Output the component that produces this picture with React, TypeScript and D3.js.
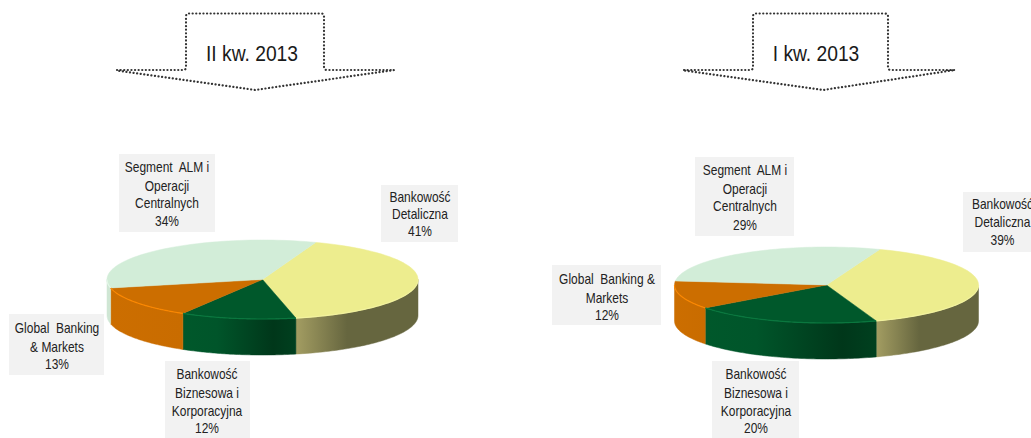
import React from "react";
import * as d3 from "d3";

const W = 1031;
const H = 438;
const FONT = "'Liberation Sans', Arial, sans-serif";
const LABEL_SQUEEZE = 0.855;
const TITLE_SQUEEZE = 0.875;

const segments = ["Bankowość Detaliczna", "Bankowość Biznesowa i Korporacyjna", "Global Banking & Markets", "Segment ALM i Operacji Centralnych"];
const valuesQ2 = [41, 12, 13, 34];
const valuesQ1 = [39, 20, 12, 29];
const topColors = ["#eded8e", "#00582b", "#cc6e00", "#d2edd8"];
const rimColors = ["#f4f4a0", "#0a7a40", "#ff8a00", "#e6f7ea"];
const wallStops: [number, string][][] = [
  [[0, "#a39d62"], [0.42, "#66663f"], [1, "#66663f"]],
  [[0, "#00582b"], [0.3, "#00552a"], [0.8, "#00371a"], [1, "#00401f"]],
  [[0, "#cc6e00"], [1, "#c96c00"]],
  [[0, "#cfe6d4"], [1, "#cfe6d4"]],
];

type LabelBox = { lines: string[]; box: [number, number, number, number]; cx: number; ys: number[] };
const labelsQ2: LabelBox[] = [
  { lines: ["Segment  ALM i", "Operacji", "Centralnych", "34%"], box: [119, 154, 96, 78], cx: 167, ys: [167, 186, 203, 221] },
  { lines: ["Bankowość", "Detaliczna", "41%"], box: [381, 185, 77, 57], cx: 420, ys: [197, 214, 231] },
  { lines: ["Global  Banking", "& Markets", "13%"], box: [9, 314, 95, 61], cx: 57, ys: [328, 347, 364] },
  { lines: ["Bankowość", "Biznesowa i", "Korporacyjna", "12%"], box: [165, 361, 85, 77], cx: 207, ys: [374, 393, 411, 428] },
];
const labelsQ1: LabelBox[] = [
  { lines: ["Segment  ALM i", "Operacji", "Centralnych", "29%"], box: [695, 157, 99, 79], cx: 745, ys: [170, 189, 206, 225] },
  { lines: ["Bankowość", "Detaliczna", "39%"], box: [963, 192, 68, 60], cx: 1002.5, ys: [204, 222, 240] },
  { lines: ["Global  Banking &", "Markets", "12%"], box: [552, 265, 109, 60], cx: 607, ys: [279, 298, 315] },
  { lines: ["Bankowość", "Biznesowa i", "Korporacyjna", "20%"], box: [712, 361, 87, 77], cx: 756, ys: [374, 393, 411, 428] },
];

type PieGeom = { id: string; cx: number; cy: number; rx: number; ry: number; depth: number; startDeg: number; values: number[] };
const pies: PieGeom[] = [
  { id: "q2", cx: 262.5, cy: 279.5, rx: 155.5, ry: 39.5, depth: 36, startDeg: 20, values: valuesQ2 },
  { id: "q1", cx: 826.5, cy: 285, rx: 152, ry: 38, depth: 36, startDeg: 20.5, values: valuesQ1 },
];

type ArrowGeom = { title: string; left: number; stemL: number; stemR: number; right: number; tipX: number; top: number; mid: number; tip: number; labelX: number };
const arrows: ArrowGeom[] = [
  { title: "II kw. 2013", left: 117, stemL: 186, stemR: 324, right: 394, tipX: 255, top: 13.5, mid: 70, tip: 90, labelX: 252 },
  { title: "I kw. 2013", left: 684, stemL: 753, stemR: 888, right: 955, tipX: 823, top: 13.5, mid: 70, tip: 90, labelX: 816 },
];

function Pie3D({ g }: { g: PieGeom }) {
  const start = (g.startDeg * Math.PI) / 180;
  const arcs = d3.pie<number>().sort(null).startAngle(start).endAngle(start + 2 * Math.PI)(g.values);
  const pt = (a: number, dy = 0): [number, number] => [g.cx + g.rx * Math.sin(a), g.cy - g.ry * Math.cos(a) + dy];
  const angleSteps = (a0: number, a1: number) => d3.range(0, 61).map((i) => a0 + ((a1 - a0) * i) / 60);
  const line = d3.line();
  const front0 = Math.PI / 2;
  const front1 = (3 * Math.PI) / 2;

  return (
    <g>
      <defs>
        {arcs.map((a, i) => {
          const s = Math.max(a.startAngle, front0);
          const e = Math.min(a.endAngle, front1);
          const x0 = Math.min(pt(s)[0], pt(e)[0]);
          const x1 = Math.max(pt(s)[0], pt(e)[0]);
          return (
            <linearGradient key={i} id={`${g.id}-w${i}`} gradientUnits="userSpaceOnUse" x1={x0} x2={x1} y1={0} y2={0}>
              {wallStops[i].map(([o, c], j) => (
                <stop key={j} offset={o} stopColor={c} />
              ))}
            </linearGradient>
          );
        })}
      </defs>
      {arcs.map((a, i) => {
        const s = Math.max(a.startAngle, front0);
        const e = Math.min(a.endAngle, front1);
        if (e <= s) return null;
        const pts = [...angleSteps(s, e).map((t) => pt(t)), ...angleSteps(e, s).map((t) => pt(t, g.depth))];
        return <path key={i} d={line(pts) + "Z"} fill={`url(#${g.id}-w${i})`} stroke={`url(#${g.id}-w${i})`} strokeWidth={0.5} />;
      })}
      {arcs.map((a, i) => {
        const pts: [number, number][] = [[g.cx, g.cy], ...angleSteps(a.startAngle, a.endAngle).map((t) => pt(t))];
        return <path key={i} d={line(pts) + "Z"} fill={topColors[i]} stroke={topColors[i]} strokeWidth={0.5} />;
      })}
      {arcs.map((a, i) => {
        const s = Math.max(a.startAngle, front0);
        const e = Math.min(a.endAngle, front1);
        if (e <= s) return null;
        return <path key={i} d={line(angleSteps(s, e).map((t) => pt(t))) || ""} fill="none" stroke={rimColors[i]} strokeWidth={1.2} opacity={0.9} />;
      })}
    </g>
  );
}

function Arrow({ a }: { a: ArrowGeom }) {
  const r = 3;
  const d = d3.path();
  d.moveTo(a.left, a.mid);
  d.lineTo(a.stemL - r, a.mid);
  d.quadraticCurveTo(a.stemL, a.mid, a.stemL, a.mid - r);
  d.lineTo(a.stemL, a.top + r);
  d.quadraticCurveTo(a.stemL, a.top, a.stemL + r, a.top);
  d.lineTo(a.stemR - r, a.top);
  d.quadraticCurveTo(a.stemR, a.top, a.stemR, a.top + r);
  d.lineTo(a.stemR, a.mid - r);
  d.quadraticCurveTo(a.stemR, a.mid, a.stemR + r, a.mid);
  d.lineTo(a.right, a.mid);
  d.lineTo(a.tipX, a.tip);
  d.lineTo(a.left, a.mid + 0.5);
  return (
    <g>
      <path d={d.toString()} fill="none" stroke="#333" strokeWidth={2.2} strokeDasharray="0.1 3.5" strokeLinecap="round" />
      <text transform={`translate(${a.labelX},61) scale(${TITLE_SQUEEZE},1)`} textAnchor="middle" fontFamily={FONT} fontSize={22} fill="#1a1a1a">
        {a.title}
      </text>
    </g>
  );
}

function Labels({ items }: { items: LabelBox[] }) {
  return (
    <g>
      {items.map((l, i) => (
        <g key={i}>
          <rect x={l.box[0]} y={l.box[1]} width={l.box[2]} height={l.box[3]} fill="#f2f2f2" />
          {l.lines.map((t, j) => (
            <text key={j} transform={`translate(${l.cx},${l.ys[j]}) scale(${LABEL_SQUEEZE},1)`} dy="0.35em" textAnchor="middle" fontFamily={FONT} fontSize={14} fill="#222" style={{ whiteSpace: "pre" }}>
              {t}
            </text>
          ))}
        </g>
      ))}
    </g>
  );
}

export default function App() {
  return (
    <svg width={W} height={H} viewBox={`0 0 ${W} ${H}`} role="img" aria-label={segments.join(", ")} style={{ position: "absolute", left: 0, top: 0, background: "#fff" }}>
      {arrows.map((a) => (
        <Arrow key={a.title} a={a} />
      ))}
      {pies.map((g) => (
        <Pie3D key={g.id} g={g} />
      ))}
      <Labels items={labelsQ2} />
      <Labels items={labelsQ1} />
    </svg>
  );
}
